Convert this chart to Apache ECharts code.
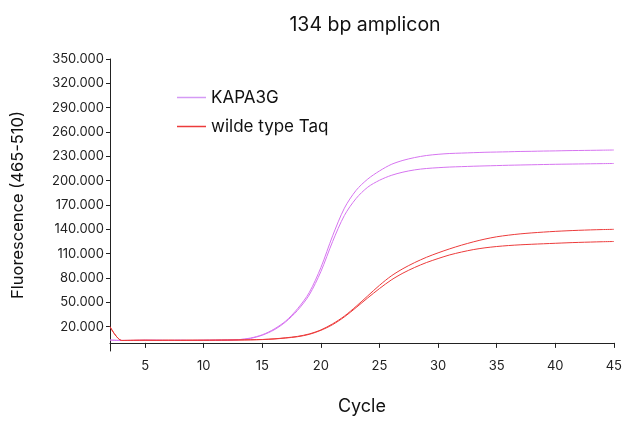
<!DOCTYPE html>
<html>
<head>
<meta charset="utf-8">
<script src="https://cdn.jsdelivr.net/npm/echarts@6/dist/echarts.min.js"></script>
<style>
  html, body { margin: 0; padding: 0; background: #fff; }
  #main { width: 625px; height: 421px; }
</style>
</head>
<body>
<div id="main"></div>
<script>
  // cycles 2..45
  var cycles = [2, 3, 4, 5, 6, 7, 8, 9, 10, 11, 12, 13, 14, 15, 16, 17, 18, 19, 20, 21, 22, 23,
    24, 25, 26, 27, 28, 29, 30, 31, 32, 33, 34, 35, 36, 37, 38, 39, 40, 41, 42, 43, 44, 45]

  // fluorescence (x1000)
  var kapaA = [3.5, 3, 3, 3.2, 3.2, 3, 3.2, 3, 3.2, 3.3, 3.5, 4, 6, 10, 17, 27, 42, 62, 93, 132,
    166, 188, 202, 212, 220, 225, 228.5, 231, 232.5, 233.5, 234, 234.5, 235, 235.3, 235.6,
    236, 236.2, 236.5, 236.7, 237, 237.2, 237.4, 237.6, 237.8]
  var kapaB = [3.5, 3, 3, 3.2, 3.2, 3, 3.2, 3, 3.2, 3.3, 3.5, 4, 5.5, 9.5, 16, 26, 40, 59, 88, 125,
    157, 178, 192, 200.5, 206.5, 210.5, 213.3, 215, 216, 216.8, 217.3, 217.8, 218.2, 218.6, 219,
    219.3, 219.6, 219.9, 220.2, 220.4, 220.6, 220.8, 221, 221.2]
  var taqA = [20, 3, 3.2, 3.3, 3.2, 3.3, 3.2, 3.3, 3.3, 3.4, 3.5, 3.6, 3.8, 4.2, 5, 6.3, 8, 11,
    16, 23.5, 33, 45, 58, 71, 82.5, 91.5, 99, 105.5, 111, 116, 120.5, 124.5, 128, 130.8, 132.8,
    134.4, 135.6, 136.6, 137.5, 138.2, 138.8, 139.3, 139.7, 140]
  var taqB = [20, 3, 3.2, 3.3, 3.2, 3.3, 3.2, 3.3, 3.3, 3.4, 3.5, 3.6, 3.8, 4.1, 4.8, 6, 7.6,
    10.5, 15.5, 22.5, 32, 43.5, 55.5, 67, 77.5, 86, 93, 99, 104, 108.5, 112, 115, 117.2, 118.8,
    120, 120.9, 121.6, 122.2, 122.8, 123.4, 123.9, 124.3, 124.7, 125]

  var yTicks = [20, 50, 80, 110, 140, 170, 200, 230, 260, 290, 320, 350]
  var xTicks = [5, 10, 15, 20, 25, 30, 35, 40, 45]

  var purple = '#d674f0'
  var red = '#ec3b3b'

  function pairs(vals) {
    return cycles.map(function (c, i) { return [c, vals[i]] })
  }

  function line(name, vals, color) {
    return {
      name: name,
      type: 'line',
      data: pairs(vals),
      smooth: 0.3,
      showSymbol: false,
      color: color,
      lineStyle: { width: 1, color: color },
      emphasis: { disabled: true }
    }
  }

  var myChart = echarts.init(document.getElementById('main'))
  var option = {
    animation: false,
    textStyle: { fontFamily: 'Inter, "Noto Sans", sans-serif' },
    title: {
      text: '134 bp amplicon',
      left: 360,
      textAlign: 'center',
      top: 10,
      textStyle: { fontSize: 19.5, fontWeight: 'normal', color: '#111' }
    },
    legend: {
      data: [
        { name: 'KAPA3G', itemStyle: { color: '#d49af5' } },
        { name: 'wilde type Taq' }
      ],
      orient: 'vertical',
      left: 172,
      top: 84,
      icon: 'rect',
      itemWidth: 29,
      itemHeight: 1.5,
      itemGap: 12,
      textStyle: { fontSize: 17, color: '#111' }
    },
    grid: { left: 110, right: 10, top: 59, bottom: 70 },
    xAxis: {
      type: 'value',
      min: 2,
      max: 45,
      name: 'Cycle',
      nameLocation: 'middle',
      nameGap: 47,
      nameTextStyle: { fontSize: 18, color: '#111' },
      axisLine: { lineStyle: { color: '#222', width: 1 } },
      axisTick: { length: 5, customValues: xTicks, lineStyle: { color: '#222' } },
      axisLabel: { customValues: xTicks, fontSize: 13, color: '#222', margin: 9 },
      splitLine: { show: false }
    },
    yAxis: {
      type: 'value',
      min: -10,
      max: 350,
      name: 'Fluorescence (465-510)',
      nameLocation: 'middle',
      nameGap: 83,
      nameTextStyle: { fontSize: 16.5, color: '#111' },
      axisLine: { show: true, lineStyle: { color: '#222', width: 1 } },
      axisTick: { show: true, length: 4, customValues: yTicks, lineStyle: { color: '#222' } },
      axisLabel: {
        customValues: yTicks,
        fontSize: 13,
        color: '#222',
        margin: 6,
        formatter: function (v) { return v + '.000' }
      },
      splitLine: { show: false }
    },
    series: [
      line('KAPA3G', kapaA, purple),
      line('KAPA3G', kapaB, purple),
      line('wilde type Taq', taqA, red),
      line('wilde type Taq', taqB, red)
    ]
  }
  myChart.setOption(option, true)
</script>
</body>
</html>
